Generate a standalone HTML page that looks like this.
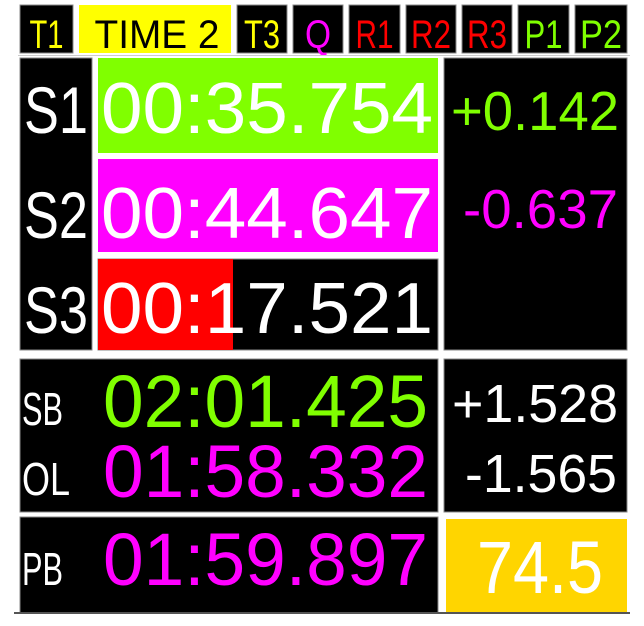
<!DOCTYPE html>
<html><head><meta charset="utf-8"><style>
html,body{margin:0;padding:0;background:#fff;width:644px;height:626px;overflow:hidden}
svg{display:block}
text{font-family:"Liberation Sans",sans-serif}
</style></head><body>
<svg width="644" height="626" viewBox="0 0 644 626">
<g font-size="40">
<rect x="20" y="5" width="53" height="48" fill="#000" stroke="#888"/>
<text x="46.5" y="48" text-anchor="middle" fill="#ffff00" textLength="34" lengthAdjust="spacingAndGlyphs">T1</text>
<rect x="79" y="5" width="152" height="48" fill="#ffff00"/>
<text x="157" y="48" text-anchor="middle" fill="#000" textLength="125" lengthAdjust="spacingAndGlyphs">TIME 2</text>
<rect x="237" y="5" width="50" height="48" fill="#000" stroke="#888"/>
<text x="262" y="48" text-anchor="middle" fill="#ffff00" textLength="36" lengthAdjust="spacingAndGlyphs">T3</text>
<rect x="293" y="5" width="50" height="48" fill="#000" stroke="#888"/>
<text x="318" y="48" text-anchor="middle" fill="#ff00ff" textLength="26" lengthAdjust="spacingAndGlyphs">Q</text>
<rect x="349" y="5" width="51" height="48" fill="#000" stroke="#888"/>
<text x="374.5" y="48" text-anchor="middle" fill="#ff0000" textLength="38" lengthAdjust="spacingAndGlyphs">R1</text>
<rect x="406" y="5" width="50" height="48" fill="#000" stroke="#888"/>
<text x="431" y="48" text-anchor="middle" fill="#ff0000" textLength="40" lengthAdjust="spacingAndGlyphs">R2</text>
<rect x="462" y="5" width="50" height="48" fill="#000" stroke="#888"/>
<text x="487" y="48" text-anchor="middle" fill="#ff0000" textLength="40" lengthAdjust="spacingAndGlyphs">R3</text>
<rect x="518" y="5" width="51" height="48" fill="#000" stroke="#888"/>
<text x="543.5" y="48" text-anchor="middle" fill="#80ff00" textLength="38" lengthAdjust="spacingAndGlyphs">P1</text>
<rect x="575" y="5" width="52" height="48" fill="#000" stroke="#888"/>
<text x="601" y="48" text-anchor="middle" fill="#80ff00" textLength="42" lengthAdjust="spacingAndGlyphs">P2</text>
</g>
<line x1="18" y1="55.5" x2="630" y2="55.5" stroke="#ccc"/>

<g>
<rect x="20" y="58" width="72" height="292" fill="#000" stroke="#888"/>
<text x="56" y="133" text-anchor="middle" font-size="66" fill="#fff" textLength="64" lengthAdjust="spacingAndGlyphs">S1</text>
<text x="56" y="238" text-anchor="middle" font-size="66" fill="#fff" textLength="64" lengthAdjust="spacingAndGlyphs">S2</text>
<text x="56" y="333" text-anchor="middle" font-size="66" fill="#fff" textLength="64" lengthAdjust="spacingAndGlyphs">S3</text>

<rect x="98" y="58" width="340" height="95" fill="#80ff00"/>
<text x="101" y="133" font-size="72" fill="#fff" textLength="332" lengthAdjust="spacingAndGlyphs">00:35.754</text>
<rect x="98" y="159" width="340" height="93" fill="#ff00ff"/>
<text x="101" y="238" font-size="72" fill="#fff" textLength="332" lengthAdjust="spacingAndGlyphs">00:44.647</text>
<rect x="98" y="259" width="340" height="91" fill="#000" stroke="#888"/>
<rect x="98" y="259" width="135" height="91" fill="#ff0000"/>
<text x="101" y="333" font-size="72" fill="#fff" textLength="332" lengthAdjust="spacingAndGlyphs">00:17.521</text>

<rect x="444" y="58" width="183" height="292" fill="#000" stroke="#888"/>
<text x="619" y="130" text-anchor="end" font-size="55" fill="#80ff00" textLength="168" lengthAdjust="spacingAndGlyphs">+0.142</text>
<text x="618" y="228" text-anchor="end" font-size="55" fill="#ff00ff" textLength="155" lengthAdjust="spacingAndGlyphs">-0.637</text>
</g>

<g>
<rect x="20" y="359" width="418" height="153" fill="#000" stroke="#888"/>
<text x="22" y="425" font-size="46" fill="#fff" textLength="41" lengthAdjust="spacingAndGlyphs">SB</text>
<text x="22" y="495" font-size="46" fill="#fff" textLength="48" lengthAdjust="spacingAndGlyphs">OL</text>
<text x="103" y="427" font-size="74" fill="#80ff00" textLength="325" lengthAdjust="spacingAndGlyphs">02:01.425</text>
<text x="103" y="497" font-size="74" fill="#ff00ff" textLength="325" lengthAdjust="spacingAndGlyphs">01:58.332</text>
<rect x="444" y="359" width="183" height="153" fill="#000" stroke="#888"/>
<text x="618" y="422" text-anchor="end" font-size="54" fill="#fff" textLength="166" lengthAdjust="spacingAndGlyphs">+1.528</text>
<text x="617" y="492" text-anchor="end" font-size="54" fill="#fff" textLength="152" lengthAdjust="spacingAndGlyphs">-1.565</text>
</g>

<g>
<rect x="20" y="517" width="418" height="96" fill="#000" stroke="#888"/>
<text x="22" y="585" font-size="46" fill="#fff" textLength="41" lengthAdjust="spacingAndGlyphs">PB</text>
<text x="103" y="585" font-size="74" fill="#ff00ff" textLength="325" lengthAdjust="spacingAndGlyphs">01:59.897</text>
<rect x="446" y="519" width="181" height="94" fill="#ffd500"/>
<text x="540" y="593" text-anchor="middle" font-size="74" fill="#fff" textLength="126" lengthAdjust="spacingAndGlyphs">74.5</text>
</g>
<line x1="14" y1="613" x2="630" y2="613" stroke="#555" stroke-width="2"/>
</svg>
</body></html>
